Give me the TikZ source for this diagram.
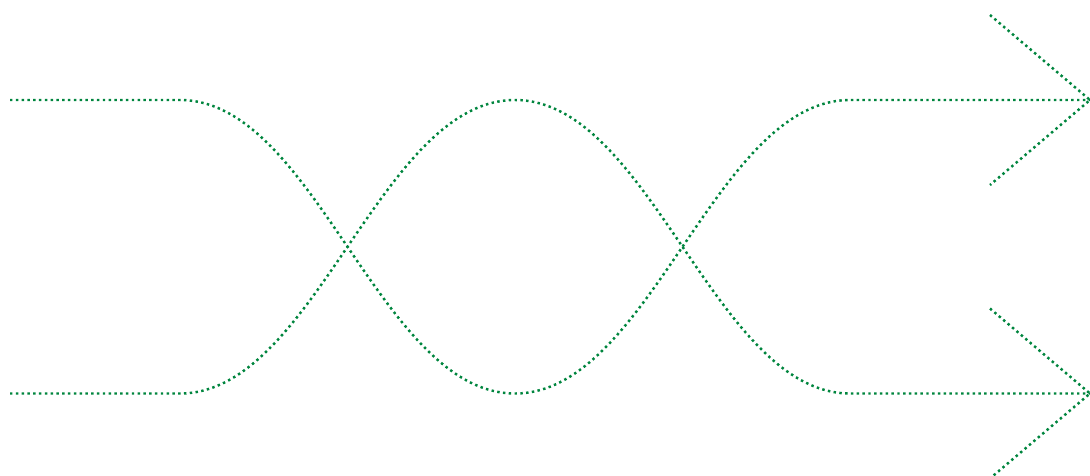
\documentclass[tikz,border=0pt]{standalone}
\usepackage{tikz}
\usetikzlibrary{calc}
\definecolor{cStrand}{RGB}{0,133,62}
\tikzset{
	strand/.style={cStrand, line width=0.7pt, dash pattern=on 0.7pt off 0.95pt},
}

\begin{document}
\begin{tikzpicture}[x=1cm, y=1cm]
	\useasboundingbox (0,0) rectangle (10.9,4.75);
	% top and bottom levels
	\coordinate (tA) at (0.1,3.75);  \coordinate (bA) at (0.1,0.815);
	\coordinate (tB) at (1.8,3.75);  \coordinate (bB) at (1.8,0.815);
	\coordinate (tC) at (5.15,3.75); \coordinate (bC) at (5.15,0.815);
	\coordinate (tD) at (8.5,3.75);  \coordinate (bD) at (8.5,0.815);
	\coordinate (tE) at (10.9,3.75); \coordinate (bE) at (10.9,0.815);
	% first strand
	\draw[strand] (tA) -- (tB) .. controls (3.15,3.75) and (3.8,0.815) .. (bC)
		.. controls (6.5,0.815) and (7.15,3.75) .. (tD) -- (tE);
	% second strand
	\draw[strand] (bA) -- (bB) .. controls (3.15,0.815) and (3.8,3.75) .. (tC)
		.. controls (6.5,3.75) and (7.15,0.815) .. (bD) -- (bE);
	% open heads
	\foreach \tip in {tE,bE}
		\draw[strand] ($(\tip)+(-1.0,0.85)$) -- (\tip) -- ($(\tip)+(-1.0,-0.85)$);
\end{tikzpicture}
\end{document}
